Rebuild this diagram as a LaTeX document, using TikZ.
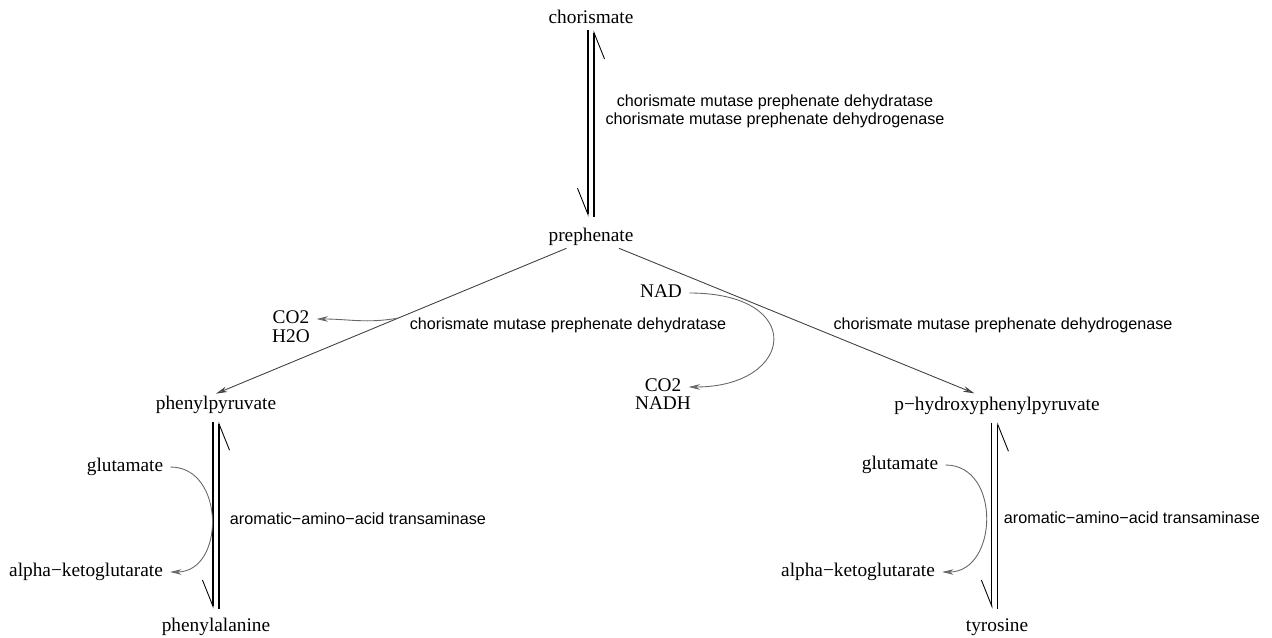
\documentclass[tikz,border=0pt]{standalone}
\usepackage{fontspec}
\setmainfont{Liberation Serif}
\setsansfont{Liberation Sans}
\usetikzlibrary{arrows.meta}

\begin{document}
\begin{tikzpicture}[x=0.02cm,y=-0.02cm,
  cpd/.style={font=\fontsize{11}{12}\selectfont,inner xsep=4pt,inner ysep=1pt,text height=8pt,text depth=2.5pt},
  enz/.style={font=\sffamily\fontsize{9.2}{10.4}\selectfont,align=center,inner sep=1pt},
  harp/.style={line width=0.6pt,-{Straight Barb[harpoon,swap,length=15pt,width=12pt,line width=0.5pt]}},
  rxn/.style={draw=black!75,line width=0.5pt,-{Stealth[length=6.5pt,width=3.2pt,fill=gray]}},
  side/.style={draw=black!60,line width=0.5pt,-{Stealth[length=6.5pt,width=3.2pt,fill=gray]}}]
\useasboundingbox (0,0) rectangle (1272,638);

% compounds
\node [cpd] (chor) at (591,19) {chorismate};
\node [cpd] (preph) at (591,237) {prephenate};
\node [cpd] (phpyr) at (216,405) {phenylpyruvate};
\node [cpd] (hpp) at (997,406) {p−hydroxyphenylpyruvate};
\node [cpd] (phe) at (216,627) {phenylalanine};
\node [cpd] (tyr) at (997,627) {tyrosine};

\node [cpd] (co2a) at (291,319) {CO2};
\node [cpd] (h2o) at (291,338) {H2O};
\node [cpd] (nad) at (661,293) {NAD};
\node [cpd] (co2b) at (663,387) {CO2};
\node [cpd] (nadh) at (663,405) {NADH};

\node [cpd] (glu1) at (125,467) {glutamate};
\node [cpd] (akg1) at (86,572) {alpha−ketoglutarate};
\node [cpd] (glu2) at (900,465) {glutamate};
\node [cpd] (akg2) at (858,572) {alpha−ketoglutarate};

% enzymes
\node [enz] (cm) at (775,111) {chorismate mutase prephenate dehydratase\\chorismate mutase prephenate dehydrogenase};
\node [enz] (pdt) at (568,325) {chorismate mutase prephenate dehydratase};
\node [enz] (pdh) at (1003,325) {chorismate mutase prephenate dehydrogenase};
\node [enz] (tat1) at (358,519) {aromatic−amino−acid transaminase};
\node [enz] (tat2) at (1132,518) {aromatic−amino−acid transaminase};

% chorismate <-> prephenate
\draw [harp,shorten <=5pt] ([xshift=1.7pt]preph.north) -- ([xshift=1.7pt]chor.south);
\draw [harp,shorten >=5pt] ([xshift=-1.7pt]chor.south) -- ([xshift=-1.7pt]preph.north);

% prephenate -> phenylpyruvate, prephenate -> p-hydroxyphenylpyruvate
\draw [rxn] ([xshift=-14pt]preph.south) -- coordinate[pos=0.48] (lossA) (phpyr.north);
\draw [rxn,shorten >=2pt] ([xshift=16pt]preph.south) -- ([xshift=-11pt]hpp.north);
\draw [side] (lossA) to[out=190,in=0] (co2a.east);
\draw [side] (nad.east) .. controls +(118,0) and +(106,0) .. (co2b.east);

% phenylpyruvate <-> phenylalanine
\draw [harp,shorten <=4pt,shorten >=3pt] ([xshift=1.7pt]phe.north) -- ([xshift=1.7pt]phpyr.south);
\draw [harp,shorten <=3pt,shorten >=4pt] ([xshift=-1.7pt]phpyr.south) -- ([xshift=-1.7pt]phe.north);
\draw [side] (glu1.east) .. controls +(55,0) and +(55,0) .. (akg1.east);

% p-hydroxyphenylpyruvate <-> tyrosine
\draw [harp,shorten <=4pt,shorten >=3pt] ([xshift=0.5pt]tyr.north) -- ([xshift=0.5pt]hpp.south);
\draw [harp,shorten <=3pt,shorten >=4pt] ([xshift=-2.9pt]hpp.south) -- ([xshift=-2.9pt]tyr.north);
\draw [side] (glu2.east) .. controls +(56,0) and +(56,0) .. (akg2.east);
\end{tikzpicture}
\end{document}
